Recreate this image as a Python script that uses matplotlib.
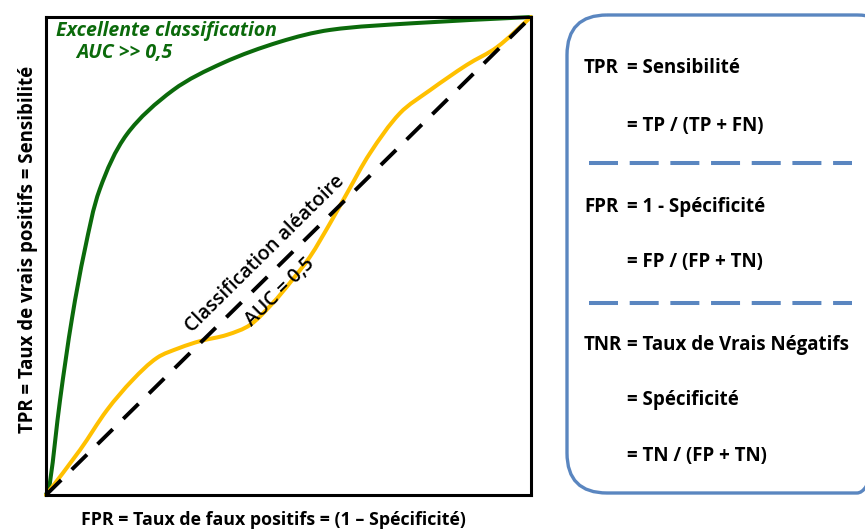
import numpy as np
import matplotlib.pyplot as plt
from matplotlib.patches import FancyBboxPatch, PathPatch
from matplotlib.path import Path

plt.rcParams['font.family'] = ['Open Sans', 'DejaVu Sans']

# points (FPR, TPR)
good_fpr = [0.0, 0.008, 0.029, 0.054, 0.080, 0.111, 0.167, 0.262, 0.365, 0.482, 0.586, 0.757, 1.0]
good_tpr = [0.0, 0.025, 0.199, 0.372, 0.513, 0.640, 0.755, 0.847, 0.904, 0.948, 0.973, 0.987, 1.0]

mid_fpr = [0.0, 0.070, 0.126, 0.179, 0.229, 0.276, 0.318, 0.373, 0.421, 0.468, 0.503,
           0.544, 0.586, 0.621, 0.668, 0.730, 0.792, 0.868, 0.930, 1.0]
mid_tpr = [0.0, 0.094, 0.178, 0.241, 0.287, 0.308, 0.322, 0.335, 0.356, 0.402, 0.444,
           0.498, 0.569, 0.632, 0.715, 0.799, 0.847, 0.900, 0.937, 1.0]

rand_fpr = [0, 1]
rand_tpr = [0, 1]

panel_keys = ['TPR', '', 'FPR', '', 'TNR', '', '']
panel_vals = ['= Sensibilité', '= TP / (TP + FN)', '= 1 - Spécificité', '= FP / (FP + TN)',
              '= Taux de Vrais Négatifs', '= Spécificité', '= TN / (FP + TN)']
panel_y = [68, 126, 207, 262, 345, 400, 456]
sep_y = [163, 303]

green = '#0b6a0b'
gold = '#ffc000'
blue = '#5a86c0'


def smooth_path(xs, ys):
    # chord-length catmull-rom through the read points, as cubic bezier segments
    p = np.column_stack([xs, ys]).astype(float)
    d = np.hypot(*np.diff(p, axis=0).T)
    t = np.concatenate([[0], np.cumsum(d)])
    m = np.zeros_like(p)
    m[0] = (p[1] - p[0]) / (t[1] - t[0])
    m[-1] = (p[-1] - p[-2]) / (t[-1] - t[-2])
    for i in range(1, len(p) - 1):
        m[i] = (p[i + 1] - p[i - 1]) / (t[i + 1] - t[i - 1])
    verts = [p[0]]
    codes = [Path.MOVETO]
    for i in range(len(p) - 1):
        h = t[i + 1] - t[i]
        verts += [p[i] + m[i] * h / 3, p[i + 1] - m[i + 1] * h / 3, p[i + 1]]
        codes += [Path.CURVE4] * 3
    return Path(verts, codes)


fig = plt.figure(figsize=(8.65, 5.29), dpi=100)
ax = fig.add_axes([46 / 865, 34 / 529, 485 / 865, 478 / 529])
ax.add_patch(PathPatch(smooth_path(good_fpr, good_tpr), fill=False, edgecolor=green,
                       linewidth=2.9, clip_on=False, capstyle='round'))
ax.add_patch(PathPatch(smooth_path(mid_fpr, mid_tpr), fill=False, edgecolor=gold,
                       linewidth=2.9, clip_on=False, capstyle='round'))
ax.plot(rand_fpr, rand_tpr, color='black', linewidth=2.8, dashes=(5.5, 3.8), clip_on=False)
ax.set_xlim(0, 1)
ax.set_ylim(0, 1)
ax.set_xticks([])
ax.set_yticks([])
for s in ax.spines.values():
    s.set_linewidth(2.2)

ax.text(0.02, 0.970, 'Excellente classification', color=green, fontsize=14,
        fontweight='bold', style='italic', va='center', ha='left')
ax.text(0.062, 0.924, 'AUC >> 0,5', color=green, fontsize=14,
        fontweight='bold', style='italic', va='center', ha='left')
ax.text(0.452, 0.504, 'Classification aléatoire', fontsize=14, fontweight='semibold',
        rotation=44.6, rotation_mode='anchor', ha='center', va='center')
ax.text(0.482, 0.425, 'AUC = 0,5', fontsize=14, fontweight='semibold',
        rotation=44.6, rotation_mode='anchor', ha='center', va='center')
ax.set_xlabel('FPR = Taux de faux positifs = (1 – Spécificité)', fontsize=12.8,
              fontweight='bold')
ax.xaxis.set_label_coords(0.468, -0.033)
ax.set_ylabel('TPR = Taux de vrais positifs = Sensibilité', fontsize=13.4,
              fontweight='bold')
ax.yaxis.set_label_coords(-0.016, 0.513)

# right panel drawn in pixel coordinates
pan = fig.add_axes([0, 0, 1, 1])
pan.set_xlim(0, 865)
pan.set_ylim(529, 0)
pan.axis('off')
pan.add_patch(FancyBboxPatch((567 + 40, 15 + 40), 330 - 80, 478 - 80,
                             boxstyle='round,pad=40', facecolor='none',
                             edgecolor=blue, linewidth=2.4))
for k, v, y in zip(panel_keys, panel_vals, panel_y):
    if k:
        pan.text(584, y, k, fontsize=13.5, fontweight='bold', va='center', ha='left')
    pan.text(627, y, v, fontsize=13.5, fontweight='bold', va='center', ha='left')
for y in sep_y:
    pan.plot([589, 852], [y, y], color=blue, linewidth=2.9, dashes=(7.2, 2.9))

fig.savefig('out.png', dpi=100)
